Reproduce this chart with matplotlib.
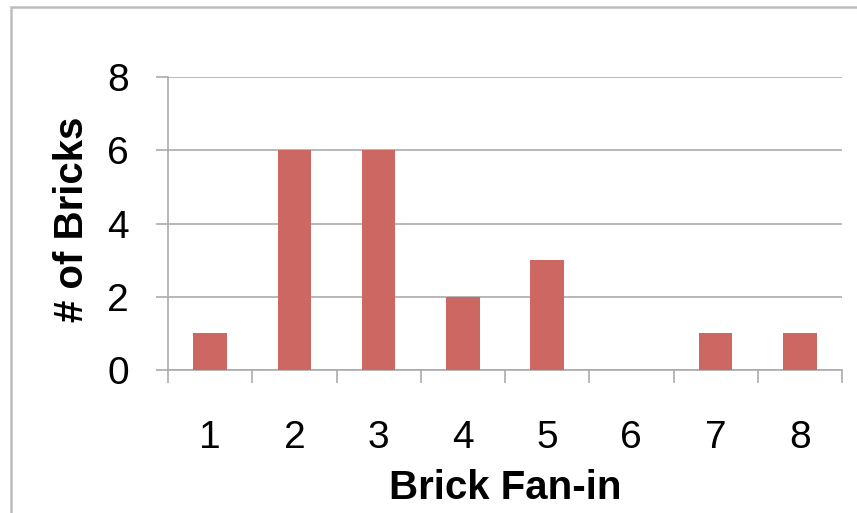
import matplotlib
matplotlib.use('Agg')
import matplotlib.pyplot as plt
from matplotlib.patches import Rectangle

fan_in = [1, 2, 3, 4, 5, 6, 7, 8]
bricks = [1, 6, 6, 2, 3, 0, 1, 1]
y_ticks = [0, 2, 4, 6, 8]

plt.rcParams['font.family'] = ['Liberation Sans', 'DejaVu Sans']

fig = plt.figure(figsize=(8.57, 5.13), dpi=100)
ax = fig.add_axes([168 / 857, 1 - 370 / 513, 674 / 857, 293 / 513])

grey = '#ABABAB'
ax.bar(fan_in, bricks, width=0.4, color='#CD6761', zorder=3)

ax.set_xlim(0.5, 8.5)
ax.set_ylim(0, 8)
ax.set_yticks(y_ticks)
ax.yaxis.grid(True, color=grey, linewidth=1.2, zorder=0)

# category labels on minor ticks, boundary marks on major ticks
ax.set_xticks([x + 0.5 for x in range(0, 9)])
ax.set_xticklabels([])
ax.set_xticks(fan_in, minor=True)
ax.set_xticklabels([str(v) for v in fan_in], minor=True)
ax.tick_params(axis='x', which='major', length=9, width=1.2, color=grey, direction='out')
ax.tick_params(axis='x', which='minor', length=0, pad=36, labelsize=28)
ax.tick_params(axis='y', length=9, width=1.2, color=grey, pad=19, labelsize=28)

for s in ['top', 'right']:
    ax.spines[s].set_visible(False)
for s in ['left', 'bottom']:
    ax.spines[s].set_color(grey)
    ax.spines[s].set_linewidth(1.2)

fig.text(505 / 857, 1 - 488 / 513, 'Brick Fan-in', ha='center', va='center',
         fontsize=29, fontweight='bold')
fig.text(72 / 857, 1 - 219 / 513, '# of Bricks', ha='center', va='center',
         rotation=90, fontsize=29, fontweight='bold')

# outer chart frame
fig.patches.append(Rectangle((11 / 857, -0.2), 1.0, 1.2 - 7 / 513, transform=fig.transFigure,
                             fill=False, edgecolor='#BDBDBD', linewidth=1.8))

fig.savefig('out.png', dpi=100)
